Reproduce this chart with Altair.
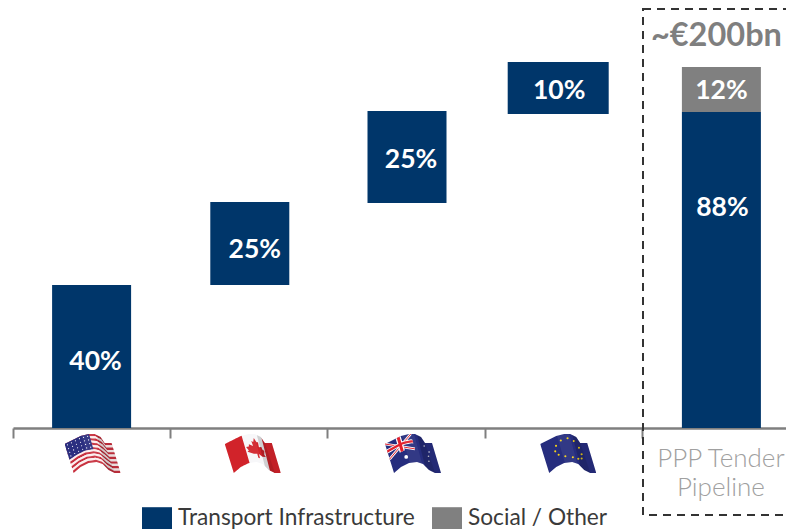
import base64
import math
import altair as alt
import pandas as pd

# ---- data -----------------------------------------------------------------
categories = ["US", "Canada", "Australia", "EU", "PPP Tender Pipeline"]
tick_label = "PPP Tender Pipeline"
bar_category = ["US", "Canada", "Australia", "EU", "PPP Tender Pipeline", "PPP Tender Pipeline"]
bar_type = ["Transport Infrastructure"] * 5 + ["Social / Other"]
bar_bottom = [0, 143, 225, 314, 0, 316]
bar_top = [143, 226, 317, 366, 316, 361]
bar_label = ["40%", "25%", "25%", "10%", "88%", "12%"]
label_at = [66, 178, 268, 337, 220, 337]
types = ["Transport Infrastructure", "Social / Other"]
type_colors = ["#00366a", "#808080"]
headline = "~€200bn"

# ---- styling -------------------------------------------------------------
FONT = "Lato"
BAR_SIZE = [79, 79, 79, 101, 79, 79]
BAR_SHIFT = [0, 1, 1, -5, 1, 1]
LABEL_SHIFT = [4, 6, 5, -4, 2, 1]
FLAG_SHIFT = [1, 4, 7, 5]
Y_DOMAIN = [-101, 420]

# ---- small waved flag pictures -------------------------------------------
TOP = [(0, 10), (8, 6), (16, 2), (24, 0), (30, 0), (36, 3), (40, 9), (47, 9)]
BOT = [(9, 39), (16, 33), (24, 29), (32, 28), (38, 30), (44, 36), (50, 39), (56, 39)]


def edge(pts, u):
    t = min(max(u, 0), 1) * (len(pts) - 1)
    i = min(int(t), len(pts) - 2)
    f = t - i
    return (pts[i][0] + (pts[i + 1][0] - pts[i][0]) * f, pts[i][1] + (pts[i + 1][1] - pts[i][1]) * f)


def warp(u, v):
    a, b = edge(TOP, u), edge(BOT, u)
    return (a[0] + (b[0] - a[0]) * v, a[1] + (b[1] - a[1]) * v)


def pts_str(pts):
    return " ".join(f"{x:.2f},{y:.2f}" for x, y in pts)


def quad(u0, v0, u1, v1, fill, op=1):
    n = 14
    pts = [warp(u0 + (u1 - u0) * i / n, v0) for i in range(n + 1)]
    pts += [warp(u1 - (u1 - u0) * i / n, v1) for i in range(n + 1)]
    return f'<polygon points="{pts_str(pts)}" fill="{fill}" fill-opacity="{op}"/>'


def dot(u, v, r, fill):
    x, y = warp(u, v)
    return f'<circle cx="{x:.2f}" cy="{y:.2f}" r="{r}" fill="{fill}"/>'


def line(u0, v0, u1, v1, w, col):
    a, b = warp(u0, v0), warp(u1, v1)
    return f'<line x1="{a[0]:.2f}" y1="{a[1]:.2f}" x2="{b[0]:.2f}" y2="{b[1]:.2f}" stroke="{col}" stroke-width="{w}"/>'


def shade():
    return (quad(0.62, 0, 0.86, 1, "#000000", 0.16) + quad(0.86, 0, 1, 1, "#000000", 0.07)
            + quad(0.3, 0, 0.55, 1, "#ffffff", 0.06))


def us():
    s = ""
    for i in range(13):
        s += quad(0, i / 13, 1, (i + 1) / 13, "#c8313f" if i % 2 == 0 else "#fbeeee")
    s += quad(0, 0, 0.44, 0.54, "#2b2f80")
    for i in range(6):
        for j in range(4):
            s += dot(0.04 + i * 0.072, 0.07 + j * 0.13, 0.6, "#ffffff")
    return s + shade()


def ca():
    s = quad(0, 0, 1, 1, "#f7f7f9") + quad(0, 0, 0.3, 1, "#d1232a") + quad(0.74, 0, 1, 1, "#d1232a")
    leaf = [(0.52, 0.14), (0.56, 0.28), (0.6, 0.25), (0.59, 0.42), (0.66, 0.35), (0.67, 0.42), (0.72, 0.42),
            (0.69, 0.56), (0.72, 0.6), (0.62, 0.7), (0.54, 0.68), (0.54, 0.82), (0.5, 0.82), (0.5, 0.68),
            (0.42, 0.7), (0.32, 0.6), (0.35, 0.56), (0.32, 0.42), (0.37, 0.42), (0.38, 0.35), (0.45, 0.42),
            (0.44, 0.25), (0.48, 0.28)]
    s += f'<polygon points="{pts_str([warp(*p) for p in leaf])}" fill="#d1232a"/>'
    return s + shade()


def au():
    s = quad(0, 0, 1, 1, "#262d7e")
    s += line(0, 0, 0.47, 0.52, 2.6, "#ffffff") + line(0, 0.52, 0.47, 0, 2.6, "#ffffff")
    s += line(0, 0, 0.47, 0.52, 1, "#e2202c") + line(0, 0.52, 0.47, 0, 1, "#e2202c")
    s += quad(0.19, 0, 0.28, 0.52, "#ffffff") + quad(0, 0.19, 0.47, 0.33, "#ffffff")
    s += quad(0.21, 0, 0.26, 0.52, "#e2202c") + quad(0, 0.22, 0.47, 0.3, "#e2202c")
    s += dot(0.27, 0.76, 1.9, "#ffffff")
    for u, v in [(0.76, 0.22), (0.82, 0.48), (0.88, 0.3), (0.78, 0.68)]:
        s += dot(u, v, 0.8, "#e8e8f0")
    return s + shade()


def eu():
    s = quad(0, 0, 1, 1, "#262d7e")
    for i in range(12):
        a = i * math.pi / 6
        s += dot(0.48 + 0.28 * math.cos(a), 0.48 + 0.33 * math.sin(a), 1.05, "#f7d417")
    return s + shade()


def uri(body):
    svg = f'<svg xmlns="http://www.w3.org/2000/svg" width="56" height="40" viewBox="0 0 56 40">{body}</svg>'
    return "data:image/svg+xml;base64," + base64.b64encode(svg.encode()).decode()


flag_urls = [uri(us()), uri(ca()), uri(au()), uri(eu())]

# ---- chart ---------------------------------------------------------------
x_scale = alt.Scale(domain=categories, range=[5, 791], paddingInner=0, paddingOuter=0)
y_scale = alt.Scale(domain=Y_DOMAIN, range=[521, 0], nice=False, zero=False)
x_axis = alt.Axis(
    orient="bottom", offset=-101, domainColor="#7f7f7f", domainWidth=2.5, tickColor="#7f7f7f",
    tickWidth=2, tickSize=10, tickBand="extent", labelAngle=0, grid=False,
    labelExpr=f"datum.label == '{tick_label}' ? ['PPP Tender', 'Pipeline'] : ''",
    labelFont=FONT, labelFontSize=26, labelFontWeight=300, labelColor="#a0a0a0", labelLineHeight=29,
    labelPadding=7, labelBaseline="top", labelLimit=0, labelOverlap=False,
)
x_enc = alt.X("cat:N", scale=x_scale, sort=categories, title=None, axis=x_axis)
y_none = alt.Y("v:Q", scale=y_scale, axis=None, title=None)

bars_df = pd.DataFrame({"cat": bar_category, "type": bar_type, "v": bar_bottom, "v2": bar_top, "label": bar_label, "at": label_at})

layers = []

# frame
layers.append(
    alt.Chart(pd.DataFrame({"a": [1]})).mark_rect(
        fill=None, stroke="#333333", strokeWidth=2, strokeDash=[8, 6]
    ).encode(x=alt.value(635), x2=alt.value(830), y=alt.value(1), y2=alt.value(507))
)

# bars
for i in range(len(bar_top)):
    row = bars_df.iloc[[i]]
    layers.append(
        alt.Chart(row).mark_bar(size=BAR_SIZE[i], xOffset=BAR_SHIFT[i]).encode(
            x=x_enc, y=y_none, y2="v2:Q",
            color=alt.Color(
                "type:N", scale=alt.Scale(domain=types, range=type_colors), title=None,
                legend=alt.Legend(
                    orient="none", legendX=134, legendY=495, direction="horizontal", columns=2,
                    symbolType="M-1,-0.73H1V0.73H-1Z", symbolSize=900, symbolStrokeWidth=0, symbolOpacity=1,
                    labelFont=FONT, labelFontSize=22.7, labelColor="#3a3a3a", labelLimit=0, labelOffset=6,
                    columnPadding=17, padding=0, title=None,
                ),
            ),
        )
    )
    layers.append(
        alt.Chart(row).mark_text(
            color="#ffffff", font=FONT, fontWeight="bold", fontSize=26.5, baseline="middle", dx=LABEL_SHIFT[i]
        ).encode(x=x_enc, y=alt.Y("at:Q", scale=y_scale, axis=None, title=None), text="label:N")
    )

# flags
for i, url in enumerate(flag_urls):
    layers.append(
        alt.Chart(pd.DataFrame({"cat": [categories[i]], "v": [-6], "url": [url]})).mark_image(
            width=56, height=40, baseline="top", xOffset=FLAG_SHIFT[i]
        ).encode(x=x_enc, y=y_none, url="url:N")
    )

# headline over the pipeline bar
layers.append(
    alt.Chart(pd.DataFrame({"cat": [categories[4]], "v": [392], "t": [headline]})).mark_text(
        color="#7f7f7f", font=FONT, fontWeight="bold", fontSize=32.5, baseline="middle", dx=-4
    ).encode(x=x_enc, y=y_none, text="t:N")
)

chart = (
    alt.layer(*layers)
    .properties(width=778, height=521, padding=0, autosize=alt.AutoSizeParams(type="none"))
    .configure_view(stroke=None)
)
chart.save("out.html", embed_options={"renderer": "svg", "actions": False})
